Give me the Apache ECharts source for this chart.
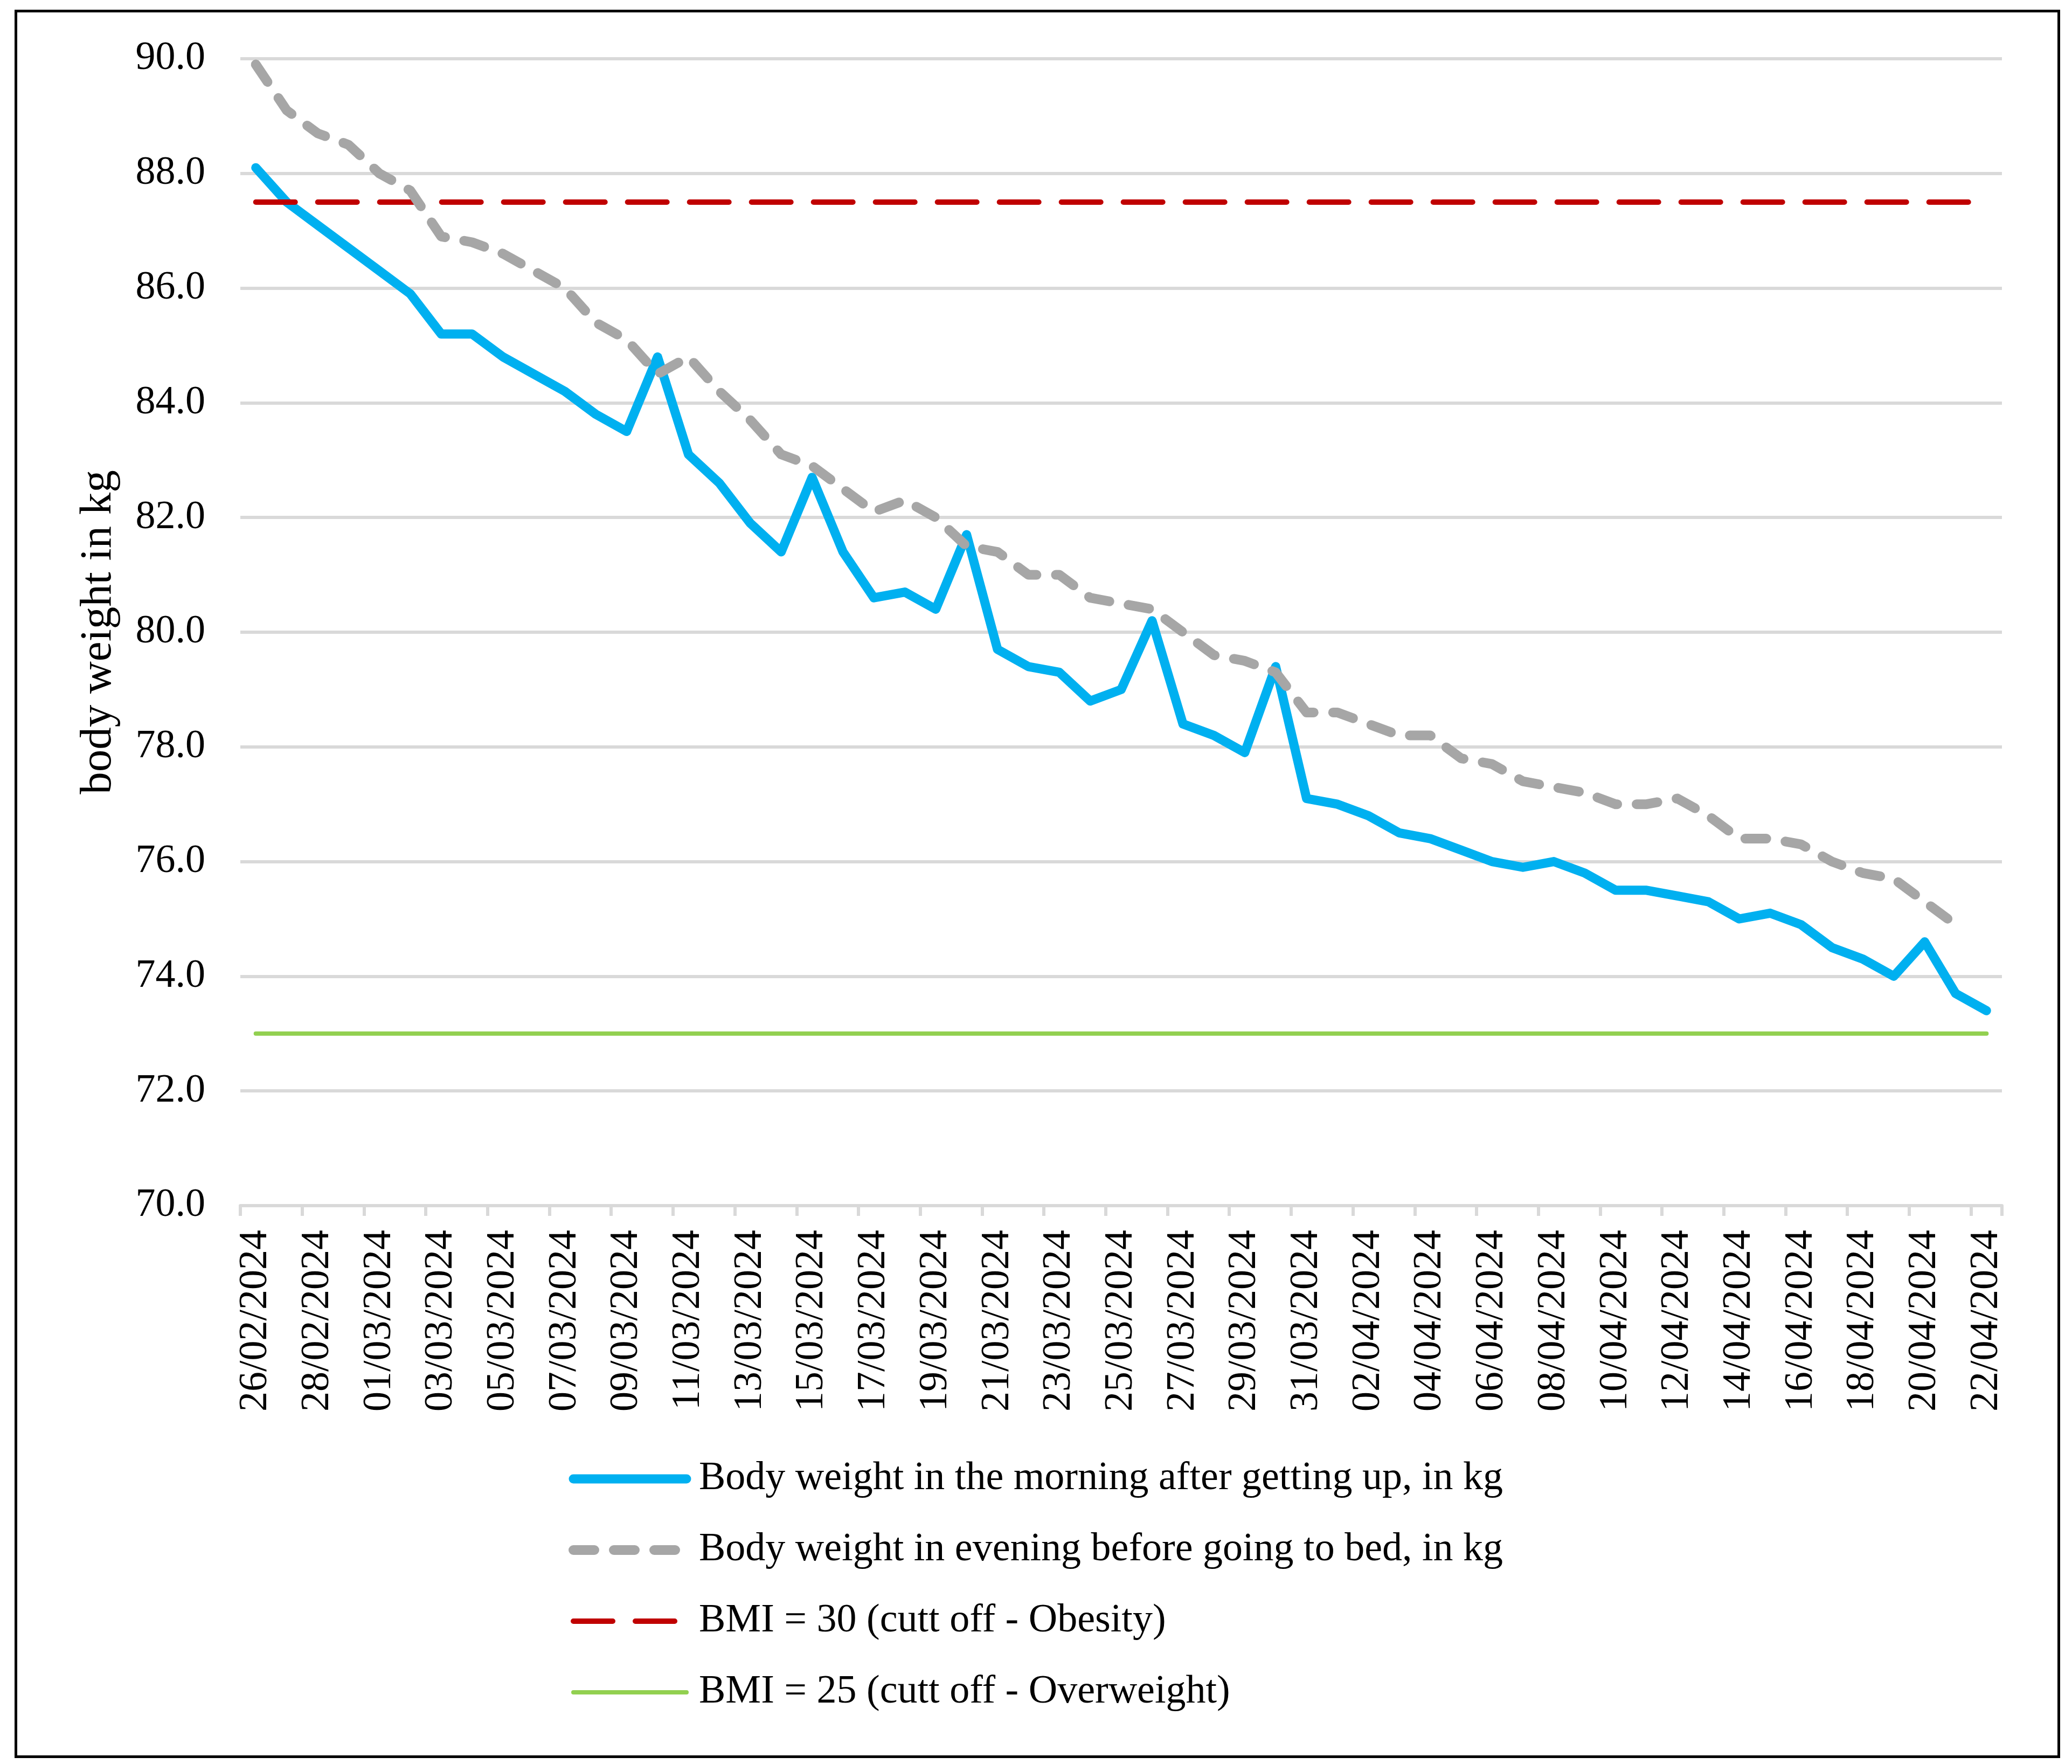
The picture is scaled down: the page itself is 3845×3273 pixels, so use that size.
<!DOCTYPE html>
<html>
<head>
<meta charset="utf-8">
<script src="https://cdn.jsdelivr.net/npm/echarts@6/dist/echarts.min.js"></script>
<style>
html,body{margin:0;padding:0;background:#fff;}
#chart{width:3845px;height:3273px;}
</style>
</head>
<body>
<div id="chart"></div>
<script>
const dates = [
  "26/02/2024","27/02/2024","28/02/2024","29/02/2024",
  "01/03/2024","02/03/2024","03/03/2024","04/03/2024","05/03/2024","06/03/2024","07/03/2024","08/03/2024","09/03/2024","10/03/2024",
  "11/03/2024","12/03/2024","13/03/2024","14/03/2024","15/03/2024","16/03/2024","17/03/2024","18/03/2024","19/03/2024","20/03/2024",
  "21/03/2024","22/03/2024","23/03/2024","24/03/2024","25/03/2024","26/03/2024","27/03/2024","28/03/2024","29/03/2024","30/03/2024","31/03/2024",
  "01/04/2024","02/04/2024","03/04/2024","04/04/2024","05/04/2024","06/04/2024","07/04/2024","08/04/2024","09/04/2024","10/04/2024",
  "11/04/2024","12/04/2024","13/04/2024","14/04/2024","15/04/2024","16/04/2024","17/04/2024","18/04/2024","19/04/2024","20/04/2024",
  "21/04/2024","22/04/2024"
];
const morning = [
  88.1, 87.5, 87.1, 86.7, 86.3, 85.9, 85.2, 85.2, 84.8, 84.5,
  84.2, 83.8, 83.5, 84.8, 83.1, 82.6, 81.9, 81.4, 82.7, 81.4,
  80.6, 80.7, 80.4, 81.7, 79.7, 79.4, 79.3, 78.8, 79.0, 80.2,
  78.4, 78.2, 77.9, 79.4, 77.1, 77.0, 76.8, 76.5, 76.4, 76.2,
  76.0, 75.9, 76.0, 75.8, 75.5, 75.5, 75.4, 75.3, 75.0, 75.1,
  74.9, 74.5, 74.3, 74.0, 74.6, 73.7, 73.4
];
const evening = [
  89.9, 89.1, 88.7, 88.5, 88.0, 87.7, 86.9, 86.8, 86.6, 86.3,
  86.0, 85.4, 85.1, 84.5, 84.8, 84.2, 83.7, 83.1, 82.9, 82.5,
  82.1, 82.3, 82.0, 81.5, 81.4, 81.0, 81.0, 80.6, 80.5, 80.4,
  80.0, 79.6, 79.5, 79.3, 78.6, 78.6, 78.4, 78.2, 78.2, 77.8,
  77.7, 77.4, 77.3, 77.2, 77.0, 77.0, 77.1, 76.8, 76.4, 76.4,
  76.3, 76.0, 75.8, 75.7, 75.3, 74.9, null
];
const obesityCutoff = 87.5;     // BMI = 30
const overweightCutoff = 73.0;  // BMI = 25
const seriesNames = [
  "Body weight in the morning after getting up, in kg",
  "Body weight in evening before going to bed, in kg",
  "BMI = 30 (cutt off - Obesity)",
  "BMI = 25 (cutt off - Overweight)"
];
const yTicks = {min: 70, max: 90, interval: 2};

const FONT = "'Liberation Serif', 'Times New Roman', serif";
const chart = echarts.init(document.getElementById('chart'));
chart.setOption({
  animation: false,
  backgroundColor: '#ffffff',
  graphic: [{
    type: 'rect', left: 27, top: 18, silent: true,
    shape: {x: 0, y: 0, width: 3791, height: 3239},
    style: {fill: 'none', stroke: '#000000', lineWidth: 5}
  }],
  grid: {left: 446, right: 130, top: 109, bottom: 1036, containLabel: false},
  legend: {
    orient: 'vertical', left: 1050, top: 2702,
    itemWidth: 210, itemHeight: 2, itemGap: 58,
    data: seriesNames,
    itemStyle: {opacity: 0},
    lineStyle: {width: 'inherit', type: 'inherit', cap: 'inherit'},
    textStyle: {fontFamily: FONT, fontSize: 74, color: '#000', padding: [0, 0, 0, 18]}
  },
  xAxis: {
    type: 'category', data: dates, boundaryGap: true,
    axisLine: {show: true, lineStyle: {color: '#d9d9d9', width: 6}},
    axisTick: {show: true, interval: 1, length: 19, lineStyle: {color: '#d9d9d9', width: 6}},
    axisLabel: {interval: 1, rotate: 90, margin: 45, fontFamily: FONT, fontSize: 74, color: '#000'},
    splitLine: {show: false}
  },
  yAxis: {
    type: 'value', min: yTicks.min, max: yTicks.max, interval: yTicks.interval,
    name: 'body weight in kg', nameLocation: 'middle', nameRotate: 90, nameGap: 221,
    nameTextStyle: {fontFamily: FONT, fontSize: 83, color: '#000'},
    axisLine: {show: false}, axisTick: {show: false},
    axisLabel: {margin: 65, fontFamily: FONT, fontSize: 74, color: '#000',
      formatter: v => v.toFixed(1)},
    splitLine: {show: true, lineStyle: {color: '#d9d9d9', width: 6}}
  },
  series: [
    {
      name: seriesNames[0], type: 'line', data: morning, symbol: 'none', z: 2,
      lineStyle: {color: '#00b0f0', width: 17, join: 'round', cap: 'round'},
      itemStyle: {color: '#00b0f0'}
    },
    {
      name: seriesNames[2], type: 'line', data: dates.map(() => obesityCutoff), symbol: 'none', z: 3,
      lineStyle: {color: '#c00000', width: 10, type: [73, 42], cap: 'round'},
      itemStyle: {color: '#c00000'}
    },
    {
      name: seriesNames[3], type: 'line', data: dates.map(() => overweightCutoff), symbol: 'none', z: 3,
      lineStyle: {color: '#92d050', width: 8, cap: 'round'},
      itemStyle: {color: '#92d050'}
    },
    {
      name: seriesNames[1], type: 'line', data: evening, symbol: 'none', z: 4,
      lineStyle: {color: '#a6a6a6', width: 18, type: [39, 36], cap: 'round', join: 'round'},
      itemStyle: {color: '#a6a6a6'}
    }
  ]
});
</script>
</body>
</html>
